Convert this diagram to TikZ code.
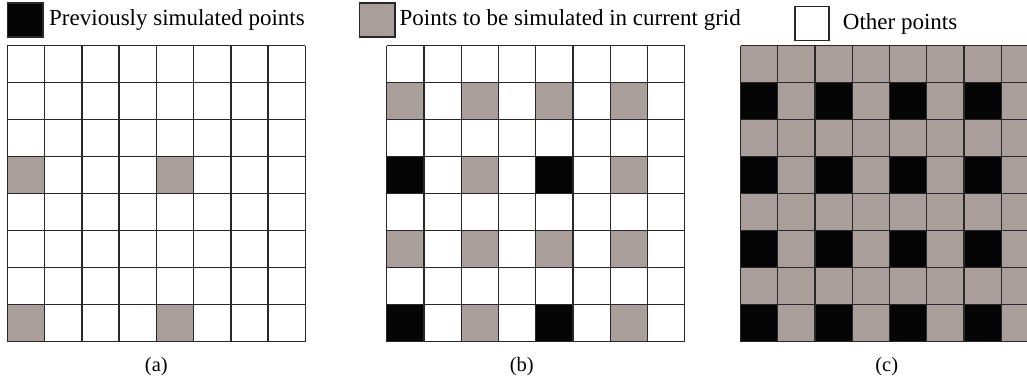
\documentclass[tikz,border=0pt]{standalone}
\usepackage{fontspec}
\setmainfont{Liberation Serif}
\definecolor{simgray}{RGB}{170,158,155}
\definecolor{gridline}{RGB}{40,40,40}
\definecolor{prevblack}{RGB}{5,5,5}
\tikzset{
  gridpen/.style={draw=gridline, line width=1.4pt},
  legtext/.style={inner sep=0pt, anchor=base west, font=\fontsize{23}{27}\selectfont},
  captext/.style={inner sep=0pt, anchor=base, font=\fontsize{20.5}{24}\selectfont},
  legbox/.style={draw=gridline, line width=1.4pt}
}
\newcommand{\cw}{37.25}
\newcommand{\ch}{37.0}
\newcommand{\gy}{45.5}
\begin{document}
\begin{tikzpicture}[x=1pt,y=-1pt]
\useasboundingbox (0,0) rectangle (1027,384);
\clip (0,0) rectangle (1027,384);
\fill[white] (0,0) rectangle (1027,384);

% ---------- legend ----------
\filldraw[legbox, fill=prevblack] (7.3,3) rectangle (43,37);
\node[legtext] (l1) at (49,25.7) {Previously simulated points};
\filldraw[legbox, fill=simgray] (359.5,3) rectangle (395,37);
\node[legtext] (l2) at (399.5,25.7) {Points to be simulated in current grid};
\filldraw[legbox, fill=white] (795,6.5) rectangle (829,40.5);
\node[legtext] (l3) at (842.7,29.3) {Other points};

% ---------- grid (a) ----------
\def\gx{7.3}
\foreach \i/\j in {0/3,4/3,0/7,4/7}
  \fill[simgray] ({\gx+\i*\cw},{\gy+\j*\ch}) rectangle ++(\cw,\ch);
\foreach \k in {0,...,8} {
  \draw[gridpen] ({\gx+\k*\cw},\gy) -- ++(0,{8*\ch});
  \draw[gridpen] (\gx,{\gy+\k*\ch}) -- ++({8*\cw},0);
}
\node[captext] (ca) at ({\gx+4*\cw},371) {(a)};

% ---------- grid (b) ----------
\def\gx{386.7}
\foreach \i/\j in {0/1,2/1,4/1,6/1,2/3,6/3,0/5,2/5,4/5,6/5,2/7,6/7}
  \fill[simgray] ({\gx+\i*\cw},{\gy+\j*\ch}) rectangle ++(\cw,\ch);
\foreach \i/\j in {0/3,4/3,0/7,4/7}
  \fill[prevblack] ({\gx+\i*\cw},{\gy+\j*\ch}) rectangle ++(\cw,\ch);
\foreach \k in {0,...,8} {
  \draw[gridpen] ({\gx+\k*\cw},\gy) -- ++(0,{8*\ch});
  \draw[gridpen] (\gx,{\gy+\k*\ch}) -- ++({8*\cw},0);
}
\node[captext] (cb) at ({\gx+4*\cw-14},371) {(b)};

% ---------- grid (c) ----------
\def\gx{740.5}
\fill[simgray] (\gx,\gy) rectangle ++({8*\cw},{8*\ch});
\foreach \j in {1,3,5,7}
  \foreach \i in {0,2,4,6}
    \fill[prevblack] ({\gx+\i*\cw},{\gy+\j*\ch}) rectangle ++(\cw,\ch);
\foreach \k in {0,...,8} {
  \draw[gridpen] ({\gx+\k*\cw},\gy) -- ++(0,{8*\ch});
  \draw[gridpen] (\gx,{\gy+\k*\ch}) -- ++({8*\cw},0);
}
\node[captext] (cc) at (886.7,371) {(c)};
\end{tikzpicture}
\end{document}
